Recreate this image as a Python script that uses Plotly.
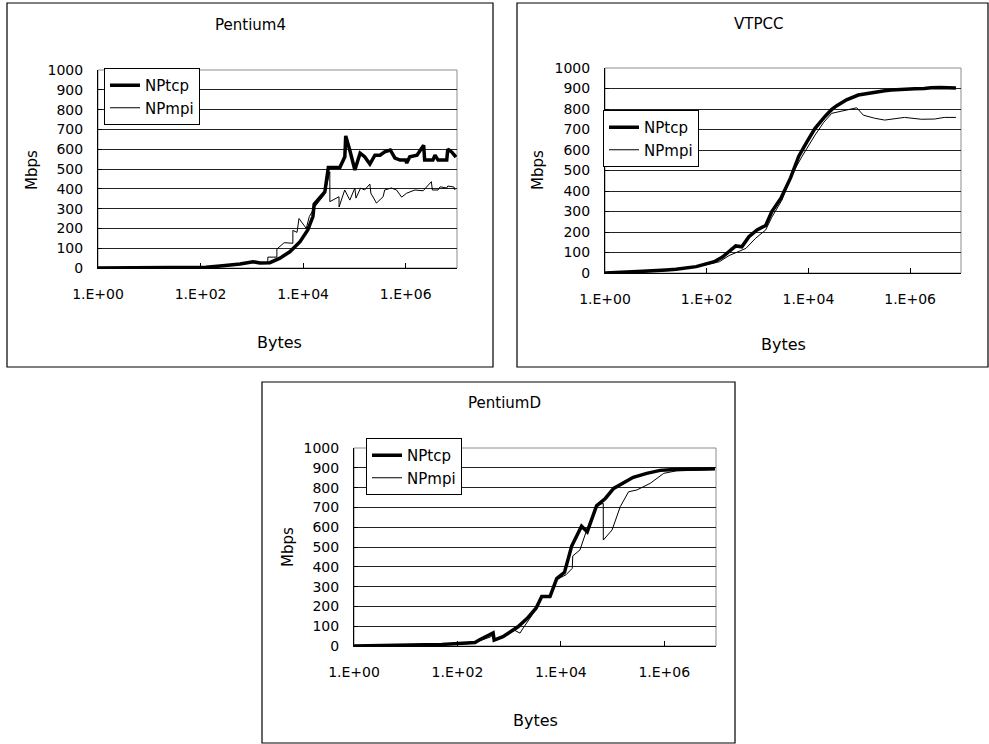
import plotly.graph_objects as go

# ---------------- data ----------------
# Pentium4
p4_tcp_bytes = [1, 2, 4, 8, 16, 32, 64, 128, 240, 590, 1050, 1440, 2240, 3540, 5500, 8700,
                12300, 15500, 16400, 19400, 26500, 31000, 52000, 65000, 67600, 81000, 102000,
                129000, 158000, 200000, 251000, 316000, 389000, 501000, 617000, 776000, 1000000,
                1047000, 1200000, 1660000, 2240000, 2340000, 3390000, 3720000, 4270000, 6310000,
                6610000, 7940000, 9550000]
p4_tcp = [0.1, 0.2, 0.4, 0.8, 1.5, 2.5, 3, 4, 10, 20, 32, 25, 27, 50, 82, 133,
          192, 260, 322, 343, 385, 508, 508, 562, 667, 596, 495,
          580, 562, 525, 570, 570, 587, 596, 555, 545, 545,
          530, 562, 570, 620, 545, 545, 570, 545, 545,
          600, 585, 560]
p4_mpi_bytes = [1, 2, 4, 8, 16, 32, 64, 128, 240, 590, 1050, 2040, 2050, 3070, 3080, 4270,
                6300, 6310, 7600, 8300, 11500, 13200, 17000, 26300, 33100, 33200, 50100, 50200,
                64600, 81300, 102000, 107000, 132000, 158000, 200000, 209000, 269000, 363000,
                389000, 525000, 661000, 832000, 1047000, 1510000, 2190000, 3160000, 3310000,
                4270000, 4680000, 6310000, 6610000, 8710000, 9120000]
p4_mpi = [0.1, 0.2, 0.4, 0.8, 1.5, 2.5, 3, 4, 10, 20, 30, 25, 55, 55, 96, 128,
          125, 190, 180, 250, 200, 260, 310, 372, 486, 335, 360, 308,
          394, 343, 404, 353, 404, 394, 424, 378, 328, 360,
          394, 404, 394, 358, 378, 394, 390, 436, 394,
          394, 410, 404, 414, 409, 394]

# VTPCC
vt_tcp_bytes = [1, 2, 5.5, 16, 25, 62, 100, 141, 204, 275, 372, 490, 676, 977, 1445, 1905,
                2880, 4470, 6460, 9330, 13500, 21400, 28800, 35500, 56200, 95500, 204000,
                316000, 427000, 912000, 1230000, 1900000, 2570000, 3980000, 7940000]
vt_tcp = [0, 2, 8, 15, 18, 31, 45, 55, 78, 104, 132, 128, 177, 210, 232, 300,
          365, 465, 570, 640, 706, 765, 798, 815, 845, 868, 884,
          889, 893, 899, 899, 900, 904, 905, 903]
vt_mpi_bytes = [1, 2, 5.5, 16, 25, 62, 100, 141, 178, 275, 372, 589, 912, 1445, 1905, 3020,
                4680, 7410, 13500, 20000, 28800, 52500, 89100, 120000, 200000, 316000, 776000,
                1660000, 3020000, 4680000, 7940000]
vt_mpi = [0, 2, 8, 15, 18, 30, 42, 50, 55, 85, 100, 120, 169, 210, 272, 356,
          478, 567, 673, 735, 779, 795, 806, 770, 755, 746, 759,
          750, 751, 759, 759]

# PentiumD
pd_tcp_bytes = [1, 10, 23, 50, 100, 160, 219, 263, 490, 513, 759, 1480, 2240, 3310, 4270,
                6170, 8320, 11750, 16200, 25100, 32400, 49000, 72400, 105000, 120000, 251000,
                457000, 832000, 1580000, 3160000, 9550000]
pd_tcp = [0, 2, 6, 8, 13, 12, 18, 30, 66, 30, 47, 97, 140, 191, 250,
          250, 340, 372, 505, 605, 577, 708, 745, 796, 805, 852,
          872, 887, 892, 894, 895]
pd_mpi_bytes = [1, 10, 23, 50, 100, 160, 263, 427, 490, 513, 759, 1260, 1620, 1860, 3310,
                4270, 6170, 8320, 12600, 16600, 17000, 23400, 31600, 49000, 66100, 66200,
                97700, 141000, 204000, 295000, 537000, 977000, 1740000, 9550000]
pd_mpi = [0, 2, 6, 8, 13, 12, 25, 45, 55, 28, 45, 80, 65, 90, 185,
          245, 248, 335, 360, 392, 455, 485, 586, 712, 720, 535,
          586, 704, 779, 788, 822, 872, 885, 891]

panel_titles = ["Pentium4", "VTPCC", "PentiumD"]
series_names = ["NPtcp", "NPmpi"]
x_tickvals = [1, 100, 1e4, 1e6]
x_ticktext = ["1.E+00", "1.E+02", "1.E+04", "1.E+06"]
x_title = "Bytes"
y_title = "Mbps"

# ---------------- layout geometry (pixels in a 989 x 744 page) ----------------
W, H = 989, 744
FONT = "DejaVu Sans"

def px(x):
    return x / W

def py(y):
    return 1 - y / H

panels = [
    dict(pl=98, pr=457, pt=70, pb=268, box=(7, 3, 493, 367), leg=(104, 68),
         title=(250, 25), ytl=(32, 170), xtl=(279, 343)),
    dict(pl=605, pr=961, pt=68, pb=273, box=(517, 3, 988, 367), leg=(603, 110),
         title=(758, 24), ytl=(538, 170), xtl=(783, 344)),
    dict(pl=354, pr=716, pt=448, pb=646, box=(262, 382, 735, 743), leg=(366, 438),
         title=(504, 403), ytl=(288, 547), xtl=(535, 720)),
]

data_sets = [
    (p4_tcp_bytes, p4_tcp, p4_mpi_bytes, p4_mpi),
    (vt_tcp_bytes, vt_tcp, vt_mpi_bytes, vt_mpi),
    (pd_tcp_bytes, pd_tcp, pd_mpi_bytes, pd_mpi),
]

fig = go.Figure()
layout = dict(
    width=W, height=H, margin=dict(l=0, r=0, t=0, b=0, autoexpand=False),
    paper_bgcolor="white", plot_bgcolor="white",
    font=dict(family=FONT, color="black", size=14),
    showlegend=True, shapes=[], annotations=[],
)

for i, (p, ds) in enumerate(zip(panels, data_sets)):
    n = "" if i == 0 else str(i + 1)
    xa, ya = "x" + n, "y" + n
    leg = "legend" + n
    tb, tv, mb, mv = ds
    fig.add_trace(go.Scatter(x=tb, y=tv, mode="lines", name=series_names[0],
                             line=dict(color="black", width=3.5),
                             xaxis=xa, yaxis=ya, legend=leg))
    fig.add_trace(go.Scatter(x=mb, y=mv, mode="lines", name=series_names[1],
                             line=dict(color="black", width=1),
                             xaxis=xa, yaxis=ya, legend=leg))
    layout["xaxis" + n] = dict(
        domain=[px(p["pl"]), px(p["pr"])], anchor=ya, type="log", range=[0, 7],
        tickvals=x_tickvals, ticktext=x_ticktext, ticks="inside", ticklen=5,
        tickcolor="black", showline=True, linecolor="black", linewidth=1,
        showgrid=False, zeroline=False, tickfont=dict(size=14, family=FONT),
        ticklabelstandoff=13, fixedrange=True, automargin=False,
    )
    layout["yaxis" + n] = dict(
        domain=[py(p["pb"]), py(p["pt"])], anchor=xa, range=[0, 1000], dtick=100,
        ticks="inside", ticklen=4, tickcolor="black", showline=True,
        linecolor="black", linewidth=1, showgrid=True, gridcolor="#222222",
        gridwidth=1, zeroline=False, tickfont=dict(size=14, family=FONT),
        ticklabelstandoff=11, fixedrange=True, automargin=False,
    )
    layout[leg] = dict(
        x=px(p["leg"][0]), y=py(p["leg"][1]), xanchor="left", yanchor="top",
        xref="paper", yref="paper", bgcolor="white", bordercolor="black",
        borderwidth=1, font=dict(size=15, family=FONT), tracegroupgap=0,
        itemwidth=30,
    )
    layout["shapes"].append(dict(
        type="rect", xref=xa + " domain", yref=ya + " domain", x0=0, x1=1, y0=0, y1=1,
        line=dict(color="#8c8c8c", width=1), layer="below"))
    bx0, by0, bx1, by1 = p["box"]
    layout["shapes"].append(dict(
        type="rect", xref="paper", yref="paper", x0=px(bx0), x1=px(bx1),
        y0=py(by1), y1=py(by0), line=dict(color="black", width=1.2)))
    layout["annotations"].append(dict(
        text=panel_titles[i], x=px(p["title"][0]), y=py(p["title"][1]),
        xref="paper", yref="paper", showarrow=False, xanchor="center",
        yanchor="middle", font=dict(size=15, family=FONT)))
    layout["annotations"].append(dict(
        text=y_title, x=px(p["ytl"][0]), y=py(p["ytl"][1]), textangle=-90,
        xref="paper", yref="paper", showarrow=False, xanchor="center",
        yanchor="middle", font=dict(size=15, family=FONT)))
    layout["annotations"].append(dict(
        text=x_title, x=px(p["xtl"][0]), y=py(p["xtl"][1]),
        xref="paper", yref="paper", showarrow=False, xanchor="center",
        yanchor="middle", font=dict(size=16, family=FONT)))

fig.update_layout(**layout)
fig.write_html("out.html",
               config={"displayModeBar": False},
               post_script="document.body.style.margin='0';"
                           "document.body.style.overflow='hidden';")
